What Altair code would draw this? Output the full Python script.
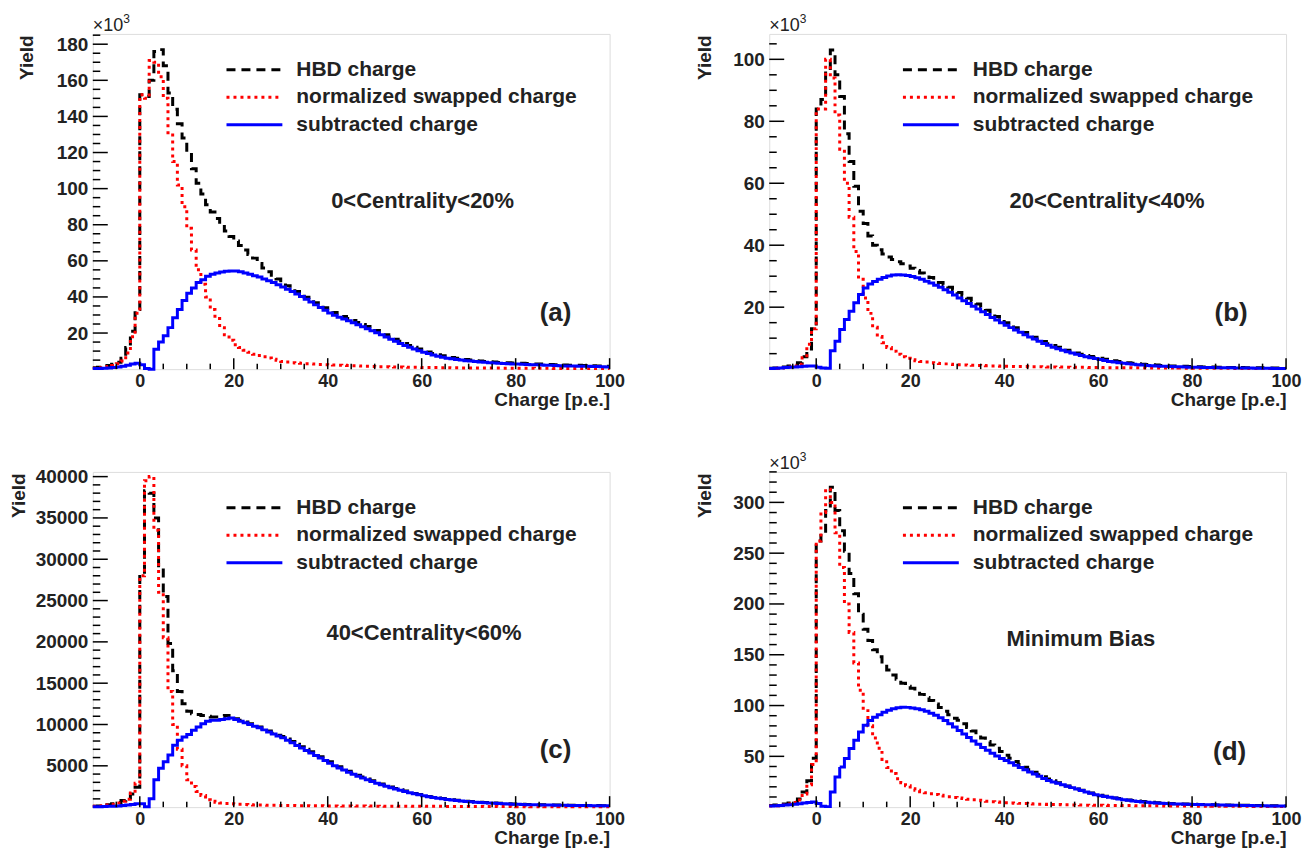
import altair as alt
import pandas as pd

FONT = "Liberation Sans"
TXT = "#222222"
SERIES = ["HBD charge", "normalized swapped charge", "subtracted charge"]
COLORS = ["#000000", "#ff0000", "#0000ff"]
DASHES = [[9, 6], [3, 4], [1, 0]]

# 110 bins of 1 p.e. from -10 to 100 (left edges + final right edge)
BIN_EDGES = list(range(-10, 101))
X_MAJOR = [0, 20, 40, 60, 80, 100]
X_MINOR = [-5, 5, 10, 15, 25, 30, 35, 45, 50, 55, 65, 70, 75, 85, 90, 95]

# ---------------- panel (a): 0<Centrality<20%  (x10^3) ----------------
A_HBD = [0.8, 1.1, 1.5, 2.0, 2.7, 3.8, 6.0, 12.0, 21.0, 33.0,
         152, 151, 160, 176, 177, 168, 153, 144, 136, 128,
         120, 111, 103, 97, 91, 87, 83.5, 80, 76.5, 73.5,
         71, 68.5, 66, 63.5, 61.5, 58.5, 56, 54, 52, 50,
         47.8, 46.2, 44.6, 43, 41.4, 39.8, 38.3, 36.8, 35.4, 34,
         32.6, 31.4, 30.2, 29.1, 28, 26.9, 25.8, 24.7, 23.6, 22.5,
         21.4, 20.2, 19, 17.8, 16.6, 15.4, 14.2, 13.1, 12.1, 11.1,
         10.3, 9.5, 8.7, 8.0, 7.4, 6.9, 6.4, 6.0, 5.6, 5.3,
         5.0, 4.7, 4.5, 4.3, 4.1, 3.9, 3.75, 3.6, 3.5, 3.4,
         3.3, 3.2, 3.1, 3.0, 2.9, 2.8, 2.7, 2.6, 2.5, 2.4,
         2.3, 2.2, 2.15, 2.1, 2.0, 1.95, 1.9, 1.8, 1.7, 1.6]
A_SWP = [0.5, 0.8, 1.1, 1.5, 2.0, 3.0, 4.5, 9.0, 18.0, 31.0,
         152, 150, 171, 170, 162, 150, 131, 115, 102, 90,
         78, 66, 55, 47, 40, 33, 28, 23, 19, 16,
         13.5, 12, 10.5, 9.3, 8.3, 7.5, 6.8, 6.2, 5.5, 4.9,
         4.3, 3.9, 3.6, 3.4, 3.2, 3.0, 2.9, 2.8, 2.6, 2.5,
         2.4, 2.3, 2.2, 2.1, 2.0, 1.9, 1.8, 1.7, 1.6, 1.5,
         1.4, 1.35, 1.3, 1.25, 1.2, 1.15, 1.1, 1.05, 1.0, 0.95,
         0.9, 0.9, 0.85, 0.85, 0.8, 0.8, 0.75, 0.75, 0.7, 0.7,
         0.7, 0.65, 0.65, 0.65, 0.6, 0.6, 0.6, 0.55, 0.55, 0.55,
         0.5, 0.5, 0.5, 0.5, 0.45, 0.45, 0.45, 0.45, 0.4, 0.4,
         0.4, 0.4, 0.4, 0.35, 0.35, 0.35, 0.35, 0.3, 0.3, 0.3]
A_SUB = [0.3, 0.4, 0.5, 0.7, 0.9, 1.2, 1.6, 2.1, 2.8, 3.2,
         2.4, 0.4, 0.0, 11.0, 15.0, 18.5, 23.0, 28.5, 33.0, 38.0,
         42.0, 45.0, 48.0, 49.5, 51.5, 52.5, 53.3, 53.8, 54.2, 54.4,
         54.4, 54.0, 53.3, 52.6, 51.8, 51.0, 50.0, 49.0, 48.0, 46.8,
         45.5, 44.3, 43.0, 41.6, 40.2, 38.7, 37.2, 35.6, 34.1, 32.6,
         31.1, 29.9, 28.8, 27.8, 26.8, 25.7, 24.6, 23.5, 22.4, 21.3,
         20.2, 19.0, 17.8, 16.6, 15.4, 14.2, 13.1, 12.1, 11.1, 10.2,
         9.4, 8.6, 7.9, 7.2, 6.6, 6.1, 5.7, 5.3, 5.0, 4.7,
         4.5, 4.2, 4.0, 3.8, 3.6, 3.4, 3.25, 3.1, 3.0, 2.9,
         2.8, 2.7, 2.6, 2.5, 2.4, 2.3, 2.2, 2.1, 2.0, 1.9,
         1.8, 1.75, 1.7, 1.65, 1.6, 1.55, 1.5, 1.4, 1.3, 1.2]

# ---------------- panel (b): 20<Centrality<40%  (x10^3) ----------------
B_HBD = [0.3, 0.4, 0.5, 0.7, 1.0, 1.4, 2.1, 4.0, 6.5, 13.0,
         84, 87, 97, 103, 95, 88, 76, 67, 59, 51,
         47, 43, 40, 38.5, 37.2, 36.2, 35.4, 34.7, 34, 33.3,
         32.6, 31.8, 31, 30.3, 29.6, 28.8, 28, 27.2, 26.4, 25.6,
         24.7, 23.8, 22.9, 22, 21, 20, 19, 18, 17, 16,
         15, 14.2, 13.4, 12.6, 11.8, 11, 10.3, 9.6, 8.9, 8.2,
         7.6, 7.1, 6.6, 6.1, 5.6, 5.2, 4.8, 4.4, 4.1, 3.8,
         3.5, 3.2, 2.9, 2.7, 2.5, 2.3, 2.1, 1.9, 1.75, 1.6,
         1.5, 1.4, 1.3, 1.2, 1.1, 1.05, 1.0, 0.95, 0.9, 0.85,
         0.8, 0.75, 0.72, 0.69, 0.66, 0.63, 0.6, 0.57, 0.55, 0.53,
         0.5, 0.48, 0.46, 0.44, 0.42, 0.4, 0.38, 0.36, 0.34, 0.32]
B_SWP = [0.2, 0.3, 0.4, 0.5, 0.7, 1.0, 1.6, 3.7, 8.0, 13.0,
         84, 84, 100, 94, 82, 71, 60, 49, 38, 29,
         23, 18, 13.5, 10.5, 8.5, 7, 5.8, 4.8, 4.0, 3.5,
         3.0, 2.7, 2.5, 2.3, 2.1, 1.9, 1.8, 1.7, 1.6, 1.5,
         1.4, 1.35, 1.3, 1.25, 1.2, 1.15, 1.1, 1.05, 1.0, 0.95,
         0.9, 0.88, 0.86, 0.84, 0.82, 0.8, 0.78, 0.76, 0.74, 0.72,
         0.7, 0.68, 0.66, 0.64, 0.62, 0.6, 0.58, 0.56, 0.54, 0.52,
         0.5, 0.49, 0.48, 0.47, 0.46, 0.45, 0.44, 0.43, 0.42, 0.41,
         0.4, 0.39, 0.38, 0.37, 0.36, 0.35, 0.34, 0.33, 0.32, 0.31,
         0.3, 0.29, 0.28, 0.28, 0.27, 0.26, 0.26, 0.25, 0.24, 0.24,
         0.23, 0.22, 0.22, 0.21, 0.2, 0.2, 0.19, 0.18, 0.18, 0.17]
B_SUB = [0.2, 0.3, 0.4, 0.5, 0.6, 0.7, 0.8, 0.9, 1.0, 1.0,
         0.6, 0.4, 0.3, 5.9, 9.0, 12.8, 16.0, 18.7, 21.4, 24.1,
         26.2, 27.5, 28.3, 29.0, 29.6, 30.1, 30.4, 30.5, 30.4, 30.2,
         29.9, 29.5, 29.0, 28.4, 27.8, 27.1, 26.4, 25.6, 24.8, 23.9,
         23.0, 22.1, 21.2, 20.3, 19.4, 18.5, 17.6, 16.7, 15.9, 15.0,
         14.2, 13.4, 12.6, 11.9, 11.1, 10.4, 9.7, 9.0, 8.3, 7.7,
         7.1, 6.6, 6.1, 5.6, 5.2, 4.8, 4.4, 4.0, 3.7, 3.4,
         3.1, 2.8, 2.5, 2.3, 2.1, 1.9, 1.75, 1.6, 1.45, 1.3,
         1.2, 1.1, 1.0, 0.95, 0.9, 0.85, 0.8, 0.75, 0.7, 0.65,
         0.62, 0.59, 0.56, 0.53, 0.5, 0.48, 0.46, 0.44, 0.42, 0.4,
         0.38, 0.36, 0.34, 0.32, 0.3, 0.28, 0.26, 0.24, 0.22, 0.2]

# ---------------- panel (c): 40<Centrality<60%  (counts) ----------------
C_HBD = [100, 150, 200, 300, 400, 550, 800, 1100, 1600, 2400,
         28200, 38300, 38000, 35000, 29000, 25500, 19800, 16500, 14000, 12500,
         11600, 11300, 11200, 11100, 11000, 10900, 10900, 11000, 11100, 10900,
         10700, 10500, 10300, 10100, 9900, 9700, 9450, 9200, 8950, 8700,
         8550, 8250, 7950, 7600, 7300, 7000, 6700, 6400, 6100, 5800,
         5500, 5200, 4900, 4620, 4350, 4100, 3860, 3640, 3420, 3200,
         3000, 2800, 2620, 2440, 2270, 2100, 1950, 1800, 1660, 1530,
         1410, 1300, 1200, 1110, 1030, 960, 890, 830, 770, 720,
         670, 630, 590, 550, 520, 490, 460, 430, 410, 390,
         370, 350, 330, 310, 300, 290, 280, 270, 260, 250,
         240, 230, 220, 210, 200, 195, 190, 185, 180, 175]
C_SWP = [100, 130, 170, 250, 350, 500, 700, 950, 1700, 2900,
         28000, 39500, 40000, 33500, 26000, 20500, 14000, 10000, 7000, 5000,
         3300, 2500, 1900, 1400, 900, 700, 600, 500, 450, 400,
         370, 340, 310, 290, 270, 250, 240, 230, 220, 210,
         200, 195, 190, 185, 180, 175, 170, 165, 160, 155,
         150, 147, 144, 141, 138, 135, 132, 129, 126, 123,
         120, 118, 116, 114, 112, 110, 108, 106, 104, 102,
         100, 98, 96, 94, 92, 90, 88, 86, 84, 82,
         80, 78, 76, 74, 72, 70, 68, 66, 64, 62,
         60, 59, 58, 57, 56, 55, 54, 53, 52, 51,
         50, 49, 48, 47, 46, 45, 44, 43, 42, 41]
C_SUB = [50, 60, 80, 100, 120, 150, 200, 250, 320, 400,
         400, 50, 1000, 3300, 4700, 5500, 6300, 7500, 8100, 8500,
         8800, 9300, 9700, 10100, 10400, 10500, 10500, 10600, 10700, 10800,
         10600, 10400, 10200, 10000, 9800, 9600, 9350, 9100, 8850, 8600,
         8400, 8100, 7800, 7450, 7150, 6850, 6550, 6250, 5950, 5650,
         5300, 5020, 4750, 4480, 4220, 3980, 3750, 3520, 3300, 3100,
         2900, 2710, 2530, 2360, 2200, 2040, 1890, 1750, 1620, 1500,
         1380, 1270, 1170, 1080, 1000, 930, 860, 800, 740, 690,
         640, 600, 560, 520, 490, 460, 430, 400, 380, 360,
         340, 320, 300, 290, 280, 270, 260, 250, 240, 230,
         220, 210, 200, 195, 190, 185, 180, 175, 170, 165]

# ---------------- panel (d): Minimum Bias  (x10^3) ----------------
D_HBD = [1.5, 2.0, 2.5, 3.2, 4.0, 5.0, 8.0, 15.0, 26.0, 48.0,
         262, 269, 292, 315, 292, 272, 252, 230, 210, 190,
         175, 164, 155, 148, 141, 135, 130, 126, 122, 119,
         117, 114, 111, 108, 105, 101.5, 98, 94.5, 91, 87.5,
         85.5, 82, 78.5, 75, 71.5, 68, 64.6, 61.2, 58, 54.8,
         51, 48, 45, 42, 39.3, 36.8, 34.3, 32, 29.8, 27.8,
         25.9, 24.1, 22.4, 20.8, 19.3, 17.9, 16.5, 15.2, 14, 12.9,
         11.8, 10.8, 9.9, 9.1, 8.4, 7.7, 7.1, 6.5, 6.0, 5.5,
         5.1, 4.7, 4.4, 4.1, 3.85, 3.6, 3.4, 3.2, 3.05, 2.9,
         2.75, 2.6, 2.5, 2.4, 2.3, 2.2, 2.1, 2.0, 1.95, 1.9,
         1.85, 1.8, 1.7, 1.65, 1.55, 1.5, 1.4, 1.35, 1.3, 1.2]
D_SWP = [1.0, 1.3, 1.7, 2.2, 3.0, 4.5, 7.0, 13.0, 22.0, 42.0,
         262, 290, 313, 300, 270, 236, 200, 172, 142, 115,
         95, 80, 68, 58, 47, 39, 33, 28, 24, 21,
         18, 16.5, 15.2, 14.1, 13.2, 12.4, 11.6, 10.9, 10.2, 9.6,
         9.0, 8.4, 7.8, 7.2, 6.7, 6.2, 5.8, 5.4, 5.0, 4.7,
         4.4, 4.1, 3.9, 3.7, 3.5, 3.3, 3.1, 2.9, 2.8, 2.7,
         2.6, 2.5, 2.4, 2.3, 2.2, 2.1, 2.0, 1.95, 1.9, 1.85,
         1.8, 1.75, 1.7, 1.65, 1.6, 1.55, 1.5, 1.45, 1.4, 1.35,
         1.3, 1.27, 1.24, 1.21, 1.18, 1.15, 1.12, 1.09, 1.06, 1.03,
         1.0, 0.98, 0.96, 0.94, 0.92, 0.9, 0.88, 0.86, 0.84, 0.82,
         0.8, 0.78, 0.76, 0.74, 0.72, 0.7, 0.68, 0.66, 0.64, 0.62]
D_SUB = [1.0, 1.3, 1.6, 2.0, 2.4, 2.9, 3.4, 4.0, 4.6, 5.0,
         3.5, 0.8, 0.5, 15.0, 29.7, 39.5, 47.8, 57.6, 65.8, 74.0,
         80.5, 85.4, 88.5, 91.0, 93.5, 95.3, 96.8, 97.8, 98.4, 98.2,
         97.6, 96.8, 95.8, 94.3, 92.5, 90.4, 88.0, 85.2, 82.1, 78.9,
         75.5, 72.0, 68.6, 65.2, 61.8, 58.8, 55.9, 53.0, 50.3, 47.8,
         45.8, 43.6, 41.3, 39.0, 36.8, 34.6, 32.5, 30.4, 28.3, 26.2,
         24.8, 23.4, 22.0, 20.6, 19.2, 17.8, 16.4, 15.0, 13.6, 12.2,
         11.3, 10.5, 9.7, 8.9, 8.0, 7.3, 6.7, 6.1, 5.5, 5.0,
         4.7, 4.4, 4.1, 3.8, 3.6, 3.4, 3.2, 3.0, 2.85, 2.75,
         2.65, 2.55, 2.45, 2.35, 2.25, 2.15, 2.05, 1.95, 1.85, 1.75,
         1.65, 1.6, 1.5, 1.45, 1.35, 1.3, 1.2, 1.15, 1.1, 1.0]

# y-axis labels / ticks
A_YMAJ = [20, 40, 60, 80, 100, 120, 140, 160, 180]
A_YMIN = [v for v in range(5, 186, 5) if v % 20]
B_YMAJ = [20, 40, 60, 80, 100]
B_YMIN = [v for v in range(5, 108, 5) if v % 20]
C_YMAJ = [5000, 10000, 15000, 20000, 25000, 30000, 35000, 40000]
C_YMIN = [v for v in range(1000, 40001, 1000) if v % 5000]
D_YMAJ = [50, 100, 150, 200, 250, 300]
D_YMIN = [v for v in range(10, 331, 10) if v % 50]

W, H = 518, 336
LEG_ROWS = [36, 63.5, 91]   # legend row centres (px from plot top)


def panel(hbd, swp, sub, ymax, ymaj, ymin, ytitle_x, ann, ann_x, ann_y,
          tag, tag_x, tag_y, exponent):
    rows = []
    for name, vals in zip(SERIES, (hbd, swp, sub)):
        vv = list(vals) + [vals[-1]]
        for e, v in zip(BIN_EDGES, vv):
            rows.append({"series": name, "x": e, "y": v})
    df = pd.DataFrame(rows)

    xs = alt.Scale(domain=[-10, 100], nice=False, zero=False)
    ys = alt.Scale(domain=[0, ymax], nice=False, zero=False)
    xaxis = alt.Axis(values=X_MAJOR, format="d", title="Charge [p.e.]",
                     ticks=False, tickSize=0, domain=False, grid=False,
                     labelFont=FONT, labelFontSize=18, labelFontWeight="bold",
                     labelColor=TXT, labelPadding=3, labelFlush=False,
                     labelOverlap=False,
                     titleFont=FONT, titleFontSize=19, titleFontWeight="bold",
                     titleColor=TXT, titleX=W, titleY=36, titleAlign="right",
                     titleBaseline="alphabetic")
    yaxis = alt.Axis(values=ymaj, format="d", title="Yield",
                     ticks=False, tickSize=0, domain=False, grid=False,
                     labelFont=FONT, labelFontSize=19, labelFontWeight="bold",
                     labelColor=TXT, labelPadding=5, labelFlush=False,
                     labelOverlap=False,
                     titleFont=FONT, titleFontSize=19, titleFontWeight="bold",
                     titleColor=TXT, titleX=ytitle_x, titleY=1,
                     titleAlign="right", titleAngle=270,
                     titleBaseline="middle")
    X = alt.X("x:Q", scale=xs, axis=xaxis)
    Y = alt.Y("y:Q", scale=ys, axis=yaxis)

    lines = alt.Chart(df).mark_line(
        interpolate="step-after", strokeWidth=3, strokeJoin="miter"
    ).encode(
        x=X, y=Y,
        color=alt.Color("series:N", scale=alt.Scale(domain=SERIES, range=COLORS),
                        legend=None),
        strokeDash=alt.StrokeDash("series:N",
                                  scale=alt.Scale(domain=SERIES, range=DASHES),
                                  legend=None),
    )

    ymaj_t = alt.Chart(pd.DataFrame({"y": ymaj})).mark_rule(
        color="black", strokeWidth=1.5).encode(y=Y, x=alt.value(0), x2=alt.value(15))
    ymin_t = alt.Chart(pd.DataFrame({"y": ymin})).mark_rule(
        color="black", strokeWidth=1.5).encode(y=Y, x=alt.value(0), x2=alt.value(7.5))
    xmaj_t = alt.Chart(pd.DataFrame({"x": X_MAJOR})).mark_rule(
        color="black", strokeWidth=1.5).encode(x=X, y=alt.value(H), y2=alt.value(H - 11))
    xmin_t = alt.Chart(pd.DataFrame({"x": X_MINOR})).mark_rule(
        color="black", strokeWidth=1.5).encode(x=X, y=alt.value(H), y2=alt.value(H - 5.5))

    ann_t = alt.Chart(pd.DataFrame({"x": [ann_x], "y": [ann_y], "t": [ann]})).mark_text(
        font=FONT, fontSize=22, fontWeight="bold", color=TXT,
        align="center", baseline="middle").encode(x=X, y=Y, text="t:N")
    tag_t = alt.Chart(pd.DataFrame({"x": [tag_x], "y": [tag_y], "t": [tag]})).mark_text(
        font=FONT, fontSize=26, fontWeight="bold", color=TXT,
        align="center", baseline="middle").encode(x=X, y=Y, text="t:N")

    layers = [lines, ymaj_t, ymin_t, xmaj_t, xmin_t, ann_t, tag_t]

    # legend (drawn as in the ROOT TLegend box, no frame)
    for name, col, dash, ry in zip(SERIES, COLORS, DASHES, LEG_ROWS):
        ldf = pd.DataFrame({"t": [name]})
        layers.append(alt.Chart(ldf).mark_rule(
            color=col, strokeDash=dash, strokeWidth=3).encode(
            x=alt.value(134), x2=alt.value(190), y=alt.value(ry)))
        layers.append(alt.Chart(ldf).mark_text(
            font=FONT, fontSize=21, fontWeight="bold", color=TXT,
            align="left", baseline="middle").encode(
            x=alt.value(204), y=alt.value(ry), text="t:N"))

    if exponent:
        layers.append(alt.Chart(pd.DataFrame({"t": ["\u00d710"]})).mark_text(
            font=FONT, fontSize=18, color=TXT, align="left",
            baseline="alphabetic").encode(x=alt.value(0), y=alt.value(-3), text="t:N"))
        layers.append(alt.Chart(pd.DataFrame({"t": ["3"]})).mark_text(
            font=FONT, fontSize=12, color=TXT, align="left",
            baseline="alphabetic").encode(x=alt.value(30.5), y=alt.value(-11), text="t:N"))
    return alt.layer(*layers).properties(width=W, height=H)


pa = panel(A_HBD, A_SWP, A_SUB, 185.7, A_YMAJ, A_YMIN, -66.5,
           "0<Centrality<20%", 60.2, 93, "(a)", 88.5, 31.2, True)
pb = panel(B_HBD, B_SWP, B_SUB, 108.2, B_YMAJ, B_YMIN, -65,
           "20<Centrality<40%", 61.9, 54.4, "(b)", 88.3, 18.1, True)
pc = panel(C_HBD, C_SWP, C_SUB, 40570, C_YMAJ, C_YMIN, -74,
           "40<Centrality<60%", 60.5, 21040, "(c)", 88.5, 6930, False)
pd_ = panel(D_HBD, D_SWP, D_SUB, 330, D_YMAJ, D_YMIN, -65,
            "Minimum Bias", 56.3, 165.2, "(d)", 88, 54.5, True)

chart = alt.concat(pa, pb, pc, pd_, columns=2,
                   spacing={"row": 103, "column": 160}, bounds="flush"
                   ).configure_view(stroke="black", strokeWidth=2
                   ).configure(padding={"left": 1, "top": 3, "right": 5, "bottom": 5},
                               background="white")

chart.save("out.html", embed_options={"renderer": "svg", "actions": False})
